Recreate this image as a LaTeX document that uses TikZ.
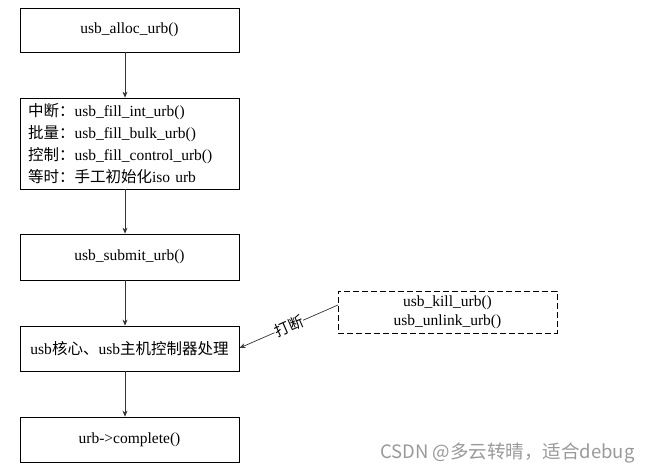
\documentclass[tikz,border=0pt]{standalone}
\usepackage{fontspec}
\setmainfont{Liberation Serif}
\newfontfamily\cjk{Noto Sans CJK SC}
\usetikzlibrary{arrows.meta}
\begin{document}
\begin{tikzpicture}[x=1pt,y=-1pt,
  box/.style={draw=black,line width=0.8pt,minimum width=219pt,inner sep=0pt,font=\fontsize{15.5}{22}\selectfont},
  dbox/.style={draw=black,dashed,dash pattern=on 6pt off 3pt,line width=0.8pt,minimum width=219pt,minimum height=42pt,inner sep=0pt,font=\fontsize{15.5}{19}\selectfont,align=center},
  arr/.style={draw=black!80,line width=0.7pt,-{Stealth[length=6pt,width=5pt]}}]
\useasboundingbox (0,0) rectangle (653,473);
\node[box,minimum height=44pt] (a) at (129.5,30) {usb\_alloc\_urb()};
\node[box,minimum height=91pt,align=left,text width=203pt] (b) at (129.5,143.5) {{\cjk 中断：}usb\_fill\_int\_urb()\\{\cjk 批量：}usb\_fill\_bulk\_urb()\\{\cjk 控制：}usb\_fill\_control\_urb()\\{\cjk 等时：手工初始化}iso urb};
\node[box,minimum height=46pt] (c) at (129.5,257) {usb\_submit\_urb()};
\node[box,minimum height=45pt] (d) at (129.5,348.5) {usb{\cjk 核心、}usb{\cjk 主机控制器处理}};
\node[box,minimum height=45pt] (e) at (129.5,439.5) {urb->complete()};
\node[dbox] (f) at (447.5,312) {usb\_kill\_urb()\\usb\_unlink\_urb()};
\coordinate (fa) at (338,305);
\coordinate (da) at (239.5,348);
\draw[arr] (a.south -| 125,0) -- (b.north -| 125,0);
\draw[arr] (b.south -| 125,0) -- (c.north -| 125,0);
\draw[arr] (c.south -| 125,0) -- (d.north -| 125,0);
\draw[arr] (d.south -| 125,0) -- (e.north -| 125,0);
\draw[arr] (fa) -- node[fill=white,inner sep=0.5pt,sloped,font=\cjk\fontsize{15}{15}\selectfont,pos=0.5] {打断} (da);
\node[text=black!40,font=\cjk\fontsize{18.5}{18.5}\selectfont,anchor=east] (w) at (638,453) {CSDN @多云转晴，适合debug};
\end{tikzpicture}
\end{document}
